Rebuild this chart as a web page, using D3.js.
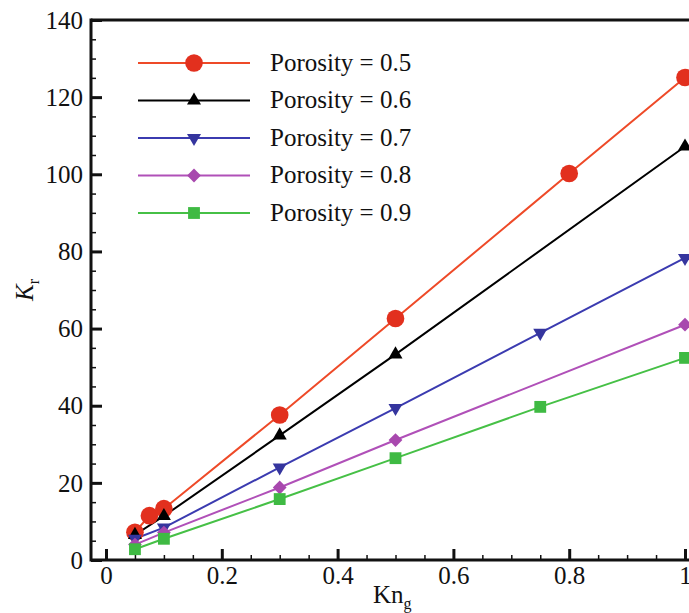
<!DOCTYPE html>
<html>
<head>
<meta charset="utf-8">
<script src="https://d3js.org/d3.v7.min.js"></script>
<style>
  body { margin: 0; background: white; }
  svg text { font-family: "Liberation Serif", "Times New Roman", Times, serif !important; fill: #111; }
  .axis path, .axis line { stroke: #111; }
</style>
</head>
<body>
<svg id="chart" width="689" height="613"></svg>
<script>
// data
const series = ["Porosity = 0.5", "Porosity = 0.6", "Porosity = 0.7", "Porosity = 0.8", "Porosity = 0.9"];
const x05 = [0.05, 0.075, 0.1, 0.3, 0.5, 0.8, 1.0];
const y05 = [7.2, 11.5, 13.3, 37.6, 62.6, 100.2, 125.1];
const x06 = [0.05, 0.1, 0.3, 0.5, 1.0];
const y06 = [6.5, 11.4, 32.3, 53.3, 107.2];
const x07 = [0.05, 0.1, 0.3, 0.5, 0.75, 1.0];
const y07 = [5.5, 8.4, 24.0, 39.4, 58.9, 78.3];
const x08 = [0.05, 0.1, 0.3, 0.5, 1.0];
const y08 = [4.0, 7.1, 18.8, 31.1, 61.0];
const x09 = [0.05, 0.1, 0.3, 0.5, 0.75, 1.0];
const y09 = [2.8, 5.5, 15.8, 26.4, 39.7, 52.4];
const xTicks = [0, 0.2, 0.4, 0.6, 0.8, 1];
const yTicks = [0, 20, 40, 60, 80, 100, 120, 140];

const colors = ["#ee4a28", "#000000", "#3b3bb0", "#b050b8", "#46c046"];
const markerFill = ["#e2301e", "#000000", "#35359e", "#a848ae", "#3fba43"];
const shapes = ["circle", "up", "down", "diamond", "square"];

const xs = [x05, x06, x07, x08, x09];
const ys = [y05, y06, y07, y08, y09];
const data = series.map((name, i) => ({
  name: name,
  points: xs[i].map((x, j) => ({ x: x, y: ys[i][j] }))
}));

const svg = d3.select("#chart");
const plotLeft = 91, plotTop = 20, plotBottom = 560;

const x = d3.scaleLinear().domain([0, 1]).range([106, 685]);
const y = d3.scaleLinear().domain([0, 140]).range([plotBottom, plotTop]);

function symbolPath(i) {
  const s = shapes[i];
  if (s === "circle") return d3.symbol().type(d3.symbolCircle).size(245)();
  if (s === "up" || s === "down") return d3.symbol().type(d3.symbolTriangle).size(85)();
  if (s === "diamond") return d3.symbol().type(d3.symbolSquare).size(95)();
  return d3.symbol().type(d3.symbolSquare).size(140)();
}
function symbolTransform(i, px, py) {
  const t = "translate(" + px + "," + py + ")";
  if (shapes[i] === "down") return t + " rotate(180)";
  if (shapes[i] === "diamond") return t + " rotate(45)";
  return t;
}

// minor ticks
svg.append("g").attr("class", "axis")
  .attr("transform", "translate(0," + plotBottom + ")")
  .call(d3.axisBottom(x).tickValues(d3.range(0, 1.0001, 0.05)).tickSize(-5).tickFormat(""))
  .call(g => g.select(".domain").remove())
  .selectAll("line").attr("stroke-width", 1.5);
svg.append("g").attr("class", "axis")
  .attr("transform", "translate(" + plotLeft + ",0)")
  .call(d3.axisLeft(y).tickValues(d3.range(0, 141, 5)).tickSize(-5).tickFormat(""))
  .call(g => g.select(".domain").remove())
  .selectAll("line").attr("stroke-width", 1.5);

// major ticks
const xAxis = svg.append("g").attr("class", "axis")
  .attr("transform", "translate(0," + plotBottom + ")")
  .call(d3.axisBottom(x).tickValues(xTicks).tickSize(-11).tickPadding(6).tickFormat(d3.format("")));
xAxis.select(".domain").remove();
xAxis.selectAll("line").attr("stroke-width", 3);
xAxis.selectAll("text").attr("font-size", 25).attr("dy", "0.71em");

const yAxis = svg.append("g").attr("class", "axis")
  .attr("transform", "translate(" + plotLeft + ",0)")
  .call(d3.axisLeft(y).tickValues(yTicks).tickSize(-11).tickPadding(8));
yAxis.select(".domain").remove();
yAxis.selectAll("line").attr("stroke-width", 3);
yAxis.selectAll("text").attr("font-size", 25).attr("dy", "0.33em");

// frame
svg.append("line").attr("x1", plotLeft).attr("x2", 689).attr("y1", plotBottom).attr("y2", plotBottom)
  .attr("stroke", "#111").attr("stroke-width", 3);
svg.append("line").attr("x1", plotLeft).attr("x2", plotLeft).attr("y1", plotTop - 1.5).attr("y2", plotBottom + 1.5)
  .attr("stroke", "#111").attr("stroke-width", 3);
svg.append("line").attr("x1", plotLeft).attr("x2", 689).attr("y1", plotTop).attr("y2", plotTop)
  .attr("stroke", "#111").attr("stroke-width", 3);

// lines
const line = d3.line().x(d => x(d.x)).y(d => y(d.y));
data.forEach((s, i) => {
  svg.append("path").datum(s.points)
    .attr("fill", "none").attr("stroke", colors[i]).attr("stroke-width", 2)
    .attr("d", line);
});
// markers
data.forEach((s, i) => {
  svg.append("g").selectAll("path").data(s.points).join("path")
    .attr("d", symbolPath(i))
    .attr("transform", d => symbolTransform(i, x(d.x), y(d.y)))
    .attr("fill", markerFill[i]);
});

// legend
const legend = svg.append("g");
series.forEach((name, i) => {
  const ly = 63 + i * 37.5;
  legend.append("line").attr("x1", 138).attr("x2", 250).attr("y1", ly).attr("y2", ly)
    .attr("stroke", colors[i]).attr("stroke-width", 2);
  legend.append("path").attr("d", symbolPath(i))
    .attr("transform", symbolTransform(i, 194, ly)).attr("fill", markerFill[i]);
  legend.append("text").attr("x", 270).attr("y", ly).attr("dy", "0.3em")
    .attr("font-size", 25).text(name);
});

// axis titles
const xt = svg.append("text").attr("x", 373).attr("y", 603).attr("font-size", 25);
xt.append("tspan").text("Kn");
xt.append("tspan").attr("font-size", 16).attr("dy", 6).text("g");

const yt = svg.append("text").attr("transform", "translate(33,290) rotate(-90)")
  .attr("text-anchor", "middle").attr("font-size", 25);
yt.append("tspan").attr("font-style", "italic").text("K");
yt.append("tspan").attr("font-size", 16).attr("dy", 6).text("r");
</script>
</body>
</html>
